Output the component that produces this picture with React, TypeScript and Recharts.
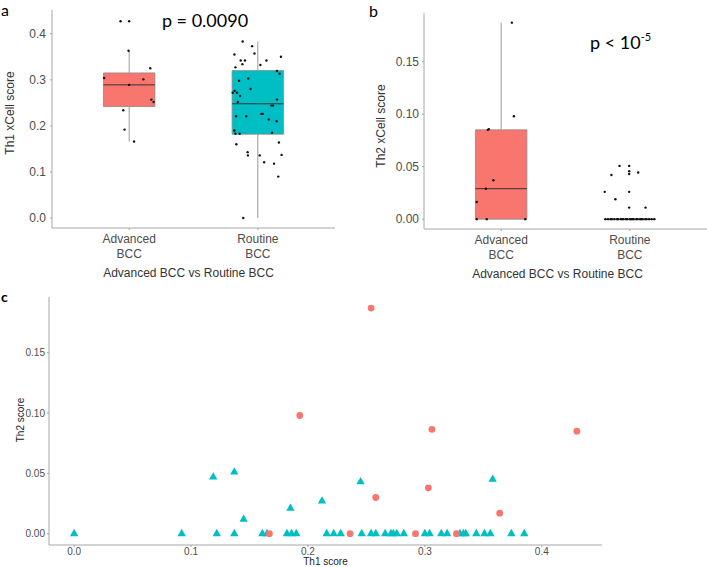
import React from 'react';
import { ScatterChart, Scatter, XAxis, YAxis, ReferenceArea, ReferenceLine, Label } from 'recharts';

const groups = ['Advanced\nBCC', 'Routine\nBCC'];
const RED = '#F8766D';
const TEAL = '#00BFC4';
const AXIS = '#a6a6a6';
const TICK_TXT = '#4d4d4d';
const SANS = 'Liberation Sans, Arial, sans-serif';
const CAL = 'Lato, Carlito, Calibri, sans-serif';

// panel a - Th1 xCell score (value + horizontal jitter)
const th1Adv = [0.427, 0.427, 0.363, 0.325, 0.304, 0.301, 0.289, 0.257, 0.252, 0.234, 0.192, 0.166];
const th1AdvJit = [-0.067, 0, -0.005, 0.164, -0.195, 0.11, 0, 0.172, 0.19, -0.046, -0.036, 0.038];
const th1Rou = [0.383, 0.373, 0.355, 0.357, 0.35, 0.342, 0.342, 0.342, 0.334, 0.332, 0.327, 0.319, 0.313, 0.303,
  0.298, 0.28, 0.276, 0.272, 0.272, 0.265, 0.252, 0.257, 0.244, 0.244, 0.226, 0.226, 0.221, 0.221, 0.214, 0.21,
  0.19, 0.183, 0.183, 0.185, 0.16, 0.164, 0.143, 0.136, 0.136, 0.137, 0.121, 0.118, 0.09, 0.0];
const th1RouJit = [-0.118, -0.044, -0.182, -0.026, 0.18, -0.133, -0.1, 0.067, -0.12, 0.02, -0.174, 0.149, 0.169, -0.074,
  -0.146, -0.056, -0.18, -0.195, -0.162, -0.138, -0.156, 0.149, 0.105, 0.118, 0.028, 0.038, -0.169, -0.09, 0.085, 0.146,
  -0.182, -0.174, -0.141, 0.11, -0.167, 0.164, -0.079, -0.077, 0.015, 0.185, 0.049, 0.126, 0.159, -0.113];
// [lower whisker, q1, median, q3, upper whisker]
const th1Box = [[0.166, 0.242, 0.289, 0.315, 0.363], [0.0, 0.182, 0.248, 0.32, 0.383]];
const th1Ticks = [0, 0.1, 0.2, 0.3, 0.4];

// panel b - Th2 xCell score
const th2Adv = [0.187, 0.098, 0.085, 0.0857, 0.037, 0.029, 0.0164, 0, 0, 0];
const th2AdvJit = [0.083, 0.099, -0.104, -0.096, -0.06, -0.119, -0.19, -0.19, -0.112, 0.187];
const th2Rou = [0.0507, 0.0507, 0.0457, 0.043, 0.0444, 0.042, 0.026, 0.026, 0.019, 0.011, 0.011,
  0, 0, 0, 0, 0, 0, 0, 0, 0, 0, 0, 0, 0, 0, 0, 0, 0, 0, 0, 0, 0, 0, 0, 0, 0, 0];
const th2RouJit = [-0.08, -0.005, -0.005, -0.005, 0.065, -0.143, -0.195, -0.005, -0.112, -0.005, 0.122,
  -0.19, -0.17, -0.15, -0.14, -0.12, -0.1, -0.09, -0.07, -0.06, -0.05, -0.03, -0.02, 0.0, 0.01, 0.02, 0.03,
  0.05, 0.06, 0.08, 0.09, 0.1, 0.12, 0.13, 0.15, 0.17, 0.19];
const th2Box = [[0, 0, 0.029, 0.085, 0.187], [0, 0, 0, 0, 0]];
const th2Ticks = [0, 0.05, 0.1, 0.15];

// panel c - Th1 vs Th2 per sample
const advTh1 = [0.167, 0.193, 0.236, 0.254, 0.258, 0.292, 0.303, 0.306, 0.327, 0.364, 0.43];
const advTh2 = [0, 0.098, 0, 0.187, 0.03, 0, 0.038, 0.0865, 0, 0.017, 0.085];
const rouTh1 = [0.0, 0.092, 0.119, 0.137, 0.122, 0.137, 0.145, 0.161, 0.165, 0.185, 0.182, 0.186, 0.19, 0.212,
  0.216, 0.222, 0.228, 0.245, 0.246, 0.254, 0.258, 0.266, 0.271, 0.273, 0.276, 0.282, 0.3, 0.304, 0.314, 0.319,
  0.33, 0.333, 0.335, 0.344, 0.351, 0.356, 0.358, 0.374, 0.385];
const rouTh2 = [0, 0, 0.047, 0.051, 0, 0, 0.012, 0, 0, 0.021, 0, 0, 0, 0.027,
  0, 0, 0, 0.043, 0, 0, 0, 0, 0, 0, 0, 0, 0, 0, 0, 0,
  0, 0, 0, 0, 0, 0, 0.045, 0, 0];
const cXTicks = [0, 0.1, 0.2, 0.3, 0.4];
const cYTicks = [0, 0.05, 0.1, 0.15];

const jitter = (vals: number[], jit: number[], g: number) => vals.map((v, i) => ({ x: g + jit[i], y: v }));
const pairs = (xs: number[], ys: number[]) => xs.map((x, i) => ({ x, y: ys[i] }));

const CatTick = (props: any) => {
  const { x, y, payload } = props;
  const lines = groups[Math.round(payload.value) - 1].split('\n');
  return (
    <text x={x} y={y} textAnchor="middle" fontSize={12} fill={TICK_TXT} fontFamily={SANS}>
      {lines.map((l, i) => (
        <tspan key={i} x={x} dy={i === 0 ? 11 : 15}>{l}</tspan>
      ))}
    </text>
  );
};

const JDot = (p: any) => <circle cx={p.cx} cy={p.cy} r={1.2} fill="#111" />;
const RedDot = (p: any) => <circle cx={p.cx} cy={p.cy} r={3.4} fill={RED} />;
const Tri = (p: any) => {
  const s = 8.4;
  const h = s * 0.866;
  const { cx, cy } = p;
  return <path d={`M${cx},${cy - (h * 2) / 3}L${cx + s / 2},${cy + h / 3}L${cx - s / 2},${cy + h / 3}Z`} fill={TEAL} />;
};

const boxes = (stats: number[][], fills: string[]) =>
  stats.flatMap((s, i) => {
    const g = i + 1;
    const [lo, q1, med, q3, hi] = s;
    return [
      <ReferenceLine key={`wl${i}`} segment={[{ x: g, y: lo }, { x: g, y: q1 }]} stroke="#9a9a9a" strokeWidth={1} />,
      <ReferenceLine key={`wh${i}`} segment={[{ x: g, y: q3 }, { x: g, y: hi }]} stroke="#9a9a9a" strokeWidth={1} />,
      <ReferenceArea key={`b${i}`} x1={g - 0.2} x2={g + 0.2} y1={q1} y2={q3} fill={fills[i]} fillOpacity={1} stroke="#8a8a8a" strokeWidth={0.8} />,
      <ReferenceLine key={`m${i}`} segment={[{ x: g - 0.2, y: med }, { x: g + 0.2, y: med }]} stroke="#333" strokeWidth={1} />,
    ];
  });

const tickStyle = { fontSize: 12, fill: TICK_TXT, fontFamily: SANS };

export default function App() {
  return (
    <div style={{ position: 'absolute', left: 0, top: 0, width: 707, height: 567, background: '#fff', overflow: 'hidden' }}>
      <div style={{ position: 'absolute', left: 0, top: 0 }}>
        <ScatterChart width={360} height={290} margin={{ top: 10, right: 25, left: 0, bottom: 0 }}>
          <XAxis type="number" dataKey="x" domain={[0.4, 2.6]} ticks={[1, 2]} tick={<CatTick />} height={62}
            stroke={AXIS} tickSize={2} tickLine={{ stroke: AXIS }} axisLine={{ stroke: AXIS }}>
            <Label value="Advanced BCC vs Routine BCC" position="insideBottom" offset={13} dx={-5}
              style={{ fontSize: 12, fill: '#333', fontFamily: SANS }} />
          </XAxis>
          <YAxis type="number" dataKey="y" domain={[-0.0216, 0.4515]} ticks={th1Ticks} width={52}
            tickFormatter={(v: number) => v.toFixed(1)} tick={tickStyle} tickSize={2} tickMargin={4}
            tickLine={{ stroke: AXIS }} axisLine={{ stroke: AXIS }} />
          {boxes(th1Box, [RED, TEAL])}
          <Scatter data={jitter(th1Adv, th1AdvJit, 1)} shape={JDot} isAnimationActive={false} />
          <Scatter data={jitter(th1Rou, th1RouJit, 2)} shape={JDot} isAnimationActive={false} />
          <text x={10} y={113} transform="rotate(-90, 10, 113)" textAnchor="middle" dominantBaseline="central"
            fontSize={12} fill="#333" fontFamily={SANS}>Th1 xCell score</text>
          <text x={205} y={27} textAnchor="middle" fontSize={18} fill="#000" fontFamily={CAL}>p = 0.0090</text>
        </ScatterChart>
      </div>

      <div style={{ position: 'absolute', left: 360, top: 0 }}>
        <ScatterChart width={347} height={290} margin={{ top: 13, right: 0, left: 0, bottom: 0 }}>
          <XAxis type="number" dataKey="x" domain={[0.4, 2.6]} ticks={[1, 2]} tick={<CatTick />} height={61}
            stroke={AXIS} tickSize={2} tickLine={{ stroke: AXIS }} axisLine={{ stroke: AXIS }}>
            <Label value="Advanced BCC vs Routine BCC" position="insideBottom" offset={12} dx={-8}
              style={{ fontSize: 12, fill: '#333', fontFamily: SANS }} />
          </XAxis>
          <YAxis type="number" dataKey="y" domain={[-0.00935, 0.1962]} ticks={th2Ticks} width={64}
            tickFormatter={(v: number) => v.toFixed(2)} tick={tickStyle} tickSize={2} tickMargin={3}
            tickLine={{ stroke: AXIS }} axisLine={{ stroke: AXIS }} />
          {boxes(th2Box, [RED, TEAL])}
          <Scatter data={jitter(th2Adv, th2AdvJit, 1)} shape={JDot} isAnimationActive={false} />
          <Scatter data={jitter(th2Rou, th2RouJit, 2)} shape={JDot} isAnimationActive={false} />
          <text x={21} y={126} transform="rotate(-90, 21, 126)" textAnchor="middle" dominantBaseline="central"
            fontSize={12} fill="#333" fontFamily={SANS}>Th2 xCell score</text>
          <text x={230} y={49} fontSize={18} fill="#000" fontFamily={CAL}>
            p &lt; 10<tspan fontSize={11} dy={-8}>-5</tspan>
          </text>
        </ScatterChart>
      </div>

      <div style={{ position: 'absolute', left: 0, top: 290 }}>
        <ScatterChart width={707} height={277} margin={{ top: 7, right: 105, left: 0, bottom: 0 }}>
          <XAxis type="number" dataKey="x" domain={[-0.0215, 0.4515]} ticks={cXTicks} height={22}
            tickFormatter={(v: number) => v.toFixed(1)} tick={{ fontSize: 10, fill: TICK_TXT, fontFamily: SANS }}
            tickSize={2} tickMargin={1} tickLine={{ stroke: AXIS }} axisLine={{ stroke: AXIS }}>
            <Label value="Th1 score" position="insideBottom" offset={2}
              style={{ fontSize: 10, fill: '#222', fontFamily: SANS }} />
          </XAxis>
          <YAxis type="number" dataKey="y" domain={[-0.00935, 0.1962]} ticks={cYTicks} width={49}
            tickFormatter={(v: number) => v.toFixed(2)} tick={{ fontSize: 10, fill: TICK_TXT, fontFamily: SANS }}
            tickSize={2} tickMargin={2} tickLine={{ stroke: AXIS }} axisLine={{ stroke: AXIS }} />
          <Scatter data={pairs(rouTh1, rouTh2)} shape={Tri} isAnimationActive={false} />
          <Scatter data={pairs(advTh1, advTh2)} shape={RedDot} isAnimationActive={false} />
          <text x={20} y={130} transform="rotate(-90, 20, 130)" textAnchor="middle" dominantBaseline="central"
            fontSize={10} fill="#222" fontFamily={SANS}>Th2 score</text>
        </ScatterChart>
      </div>

      <svg width={707} height={567} style={{ position: 'absolute', left: 0, top: 0, pointerEvents: 'none' }}>
        <text x={1} y={16} fontSize={16} fill="#000" fontFamily={CAL}>a</text>
        <text x={369} y={17} fontSize={16} fill="#000" fontFamily={CAL}>b</text>
        <text x={1} y={302} fontSize={14} fontWeight="bold" fill="#000" fontFamily={CAL}>c</text>
      </svg>
    </div>
  );
}
